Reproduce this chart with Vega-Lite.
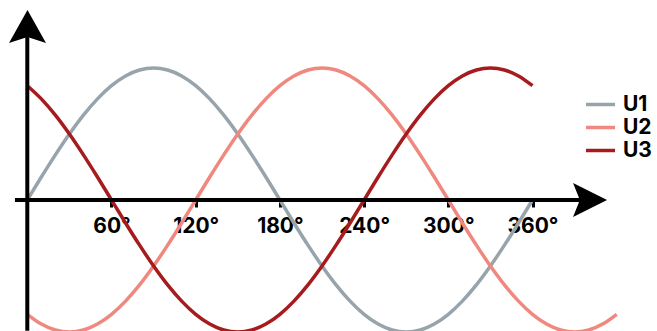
{
  "$schema": "https://vega.github.io/schema/vega-lite/v6.json",
  "width": 657,
  "height": 331,
  "autosize": {"type": "none"},
  "padding": 0,
  "background": "white",
  "config": {"view": {"stroke": null}},
  "datasets": {
    "waves": [
      {"d": 0, "U1": 0, "U2": -0.866, "U3": 0.866},
      {"d": 10, "U1": 0.174, "U2": -0.94, "U3": 0.766},
      {"d": 20, "U1": 0.342, "U2": -0.985, "U3": 0.643},
      {"d": 30, "U1": 0.5, "U2": -1, "U3": 0.5},
      {"d": 40, "U1": 0.643, "U2": -0.985, "U3": 0.342},
      {"d": 50, "U1": 0.766, "U2": -0.94, "U3": 0.174},
      {"d": 60, "U1": 0.866, "U2": -0.866, "U3": 0},
      {"d": 70, "U1": 0.94, "U2": -0.766, "U3": -0.174},
      {"d": 80, "U1": 0.985, "U2": -0.643, "U3": -0.342},
      {"d": 90, "U1": 1, "U2": -0.5, "U3": -0.5},
      {"d": 100, "U1": 0.985, "U2": -0.342, "U3": -0.643},
      {"d": 110, "U1": 0.94, "U2": -0.174, "U3": -0.766},
      {"d": 120, "U1": 0.866, "U2": 0, "U3": -0.866},
      {"d": 130, "U1": 0.766, "U2": 0.174, "U3": -0.94},
      {"d": 140, "U1": 0.643, "U2": 0.342, "U3": -0.985},
      {"d": 150, "U1": 0.5, "U2": 0.5, "U3": -1},
      {"d": 160, "U1": 0.342, "U2": 0.643, "U3": -0.985},
      {"d": 170, "U1": 0.174, "U2": 0.766, "U3": -0.94},
      {"d": 180, "U1": 0, "U2": 0.866, "U3": -0.866},
      {"d": 190, "U1": -0.174, "U2": 0.94, "U3": -0.766},
      {"d": 200, "U1": -0.342, "U2": 0.985, "U3": -0.643},
      {"d": 210, "U1": -0.5, "U2": 1, "U3": -0.5},
      {"d": 220, "U1": -0.643, "U2": 0.985, "U3": -0.342},
      {"d": 230, "U1": -0.766, "U2": 0.94, "U3": -0.174},
      {"d": 240, "U1": -0.866, "U2": 0.866, "U3": 0},
      {"d": 250, "U1": -0.94, "U2": 0.766, "U3": 0.174},
      {"d": 260, "U1": -0.985, "U2": 0.643, "U3": 0.342},
      {"d": 270, "U1": -1, "U2": 0.5, "U3": 0.5},
      {"d": 280, "U1": -0.985, "U2": 0.342, "U3": 0.643},
      {"d": 290, "U1": -0.94, "U2": 0.174, "U3": 0.766},
      {"d": 300, "U1": -0.866, "U2": 0, "U3": 0.866},
      {"d": 310, "U1": -0.766, "U2": -0.174, "U3": 0.94},
      {"d": 320, "U1": -0.643, "U2": -0.342, "U3": 0.985},
      {"d": 330, "U1": -0.5, "U2": -0.5, "U3": 1},
      {"d": 340, "U1": -0.342, "U2": -0.643, "U3": 0.985},
      {"d": 350, "U1": -0.174, "U2": -0.766, "U3": 0.94},
      {"d": 360, "U1": 0, "U2": -0.866, "U3": 0.866},
      {"d": 370, "U2": -0.94},
      {"d": 380, "U2": -0.985},
      {"d": 390, "U2": -1},
      {"d": 400, "U2": -0.985},
      {"d": 410, "U2": -0.94},
      {"d": 420, "U2": -0.866}
    ]
  },
  "layer": [
    {
      "data": {"name": "waves"},
      "transform": [{"fold": ["U1", "U2", "U3"], "as": ["series", "v"]}],
      "mark": {"type": "line", "strokeWidth": 3.5, "interpolate": "monotone", "clip": true},
      "encoding": {
        "x": {
          "field": "d",
          "type": "quantitative",
          "scale": {"domain": [-19.45, 448.7], "nice": false, "zero": false},
          "axis": {
            "orient": "bottom",
            "offset": -131,
            "domain": false,
            "grid": false,
            "title": null,
            "values": [60, 120, 180, 240, 300, 360],
            "labelExpr": "datum.value + '°'",
            "ticks": true,
            "tickSize": 7,
            "tickWidth": 3,
            "tickColor": "black",
            "labelFont": "Inter",
            "labelFontWeight": "bold",
            "labelFontSize": 21,
            "labelColor": "black",
            "labelPadding": 8,
            "labelDx": 3,
            "labelFlush": false,
            "labelOverlap": false
          }
        },
        "y": {
          "field": "v",
          "type": "quantitative",
          "scale": {"domain": [-0.9924, 1.5152], "nice": false, "zero": false},
          "axis": null
        },
        "color": {
          "field": "series",
          "type": "nominal",
          "scale": {"domain": ["U1", "U2", "U3"], "range": ["#97a4ab", "#ef897f", "#a61b1d"]},
          "legend": {
            "orient": "none",
            "legendX": 590,
            "legendY": 94,
            "title": null,
            "padding": 0,
            "symbolType": "M-2,0H2",
            "symbolSize": 210,
            "symbolStrokeWidth": 3.5,
            "symbolOpacity": 1,
            "labelFont": "Inter",
            "labelFontSize": 21,
            "labelFontWeight": "bold",
            "labelColor": "black",
            "labelOffset": 12,
            "rowPadding": 1
          }
        }
      }
    },
    {
      "data": {"values": [{}]},
      "mark": {"type": "rule", "color": "black", "strokeWidth": 4, "clip": true},
      "encoding": {
        "x": {"datum": -8.8, "type": "quantitative"},
        "x2": {"datum": 397.4},
        "y": {"datum": 0, "type": "quantitative"}
      }
    },
    {
      "data": {"values": [{}]},
      "mark": {"type": "rule", "color": "black", "strokeWidth": 4, "clip": true},
      "encoding": {
        "x": {"datum": 0, "type": "quantitative"},
        "y": {"datum": 1.25, "type": "quantitative"},
        "y2": {"datum": -0.99}
      }
    },
    {
      "data": {"values": [{}]},
      "mark": {"type": "point", "filled": true, "color": "black", "opacity": 1, "strokeWidth": 0, "size": 1369, "shape": "M0,-0.892L1,0.892L0,0.57L-1,0.892Z"},
      "encoding": {
        "x": {"datum": 0.14, "type": "quantitative"},
        "y": {"datum": 1.314, "type": "quantitative"}
      }
    },
    {
      "data": {"values": [{}]},
      "mark": {"type": "point", "filled": true, "color": "black", "opacity": 1, "strokeWidth": 0, "size": 1156, "shape": "M1,0L-1,-1L-0.6,0L-1,1Z"},
      "encoding": {
        "x": {"datum": 401, "type": "quantitative"},
        "y": {"datum": 0, "type": "quantitative"}
      }
    }
  ]
}
